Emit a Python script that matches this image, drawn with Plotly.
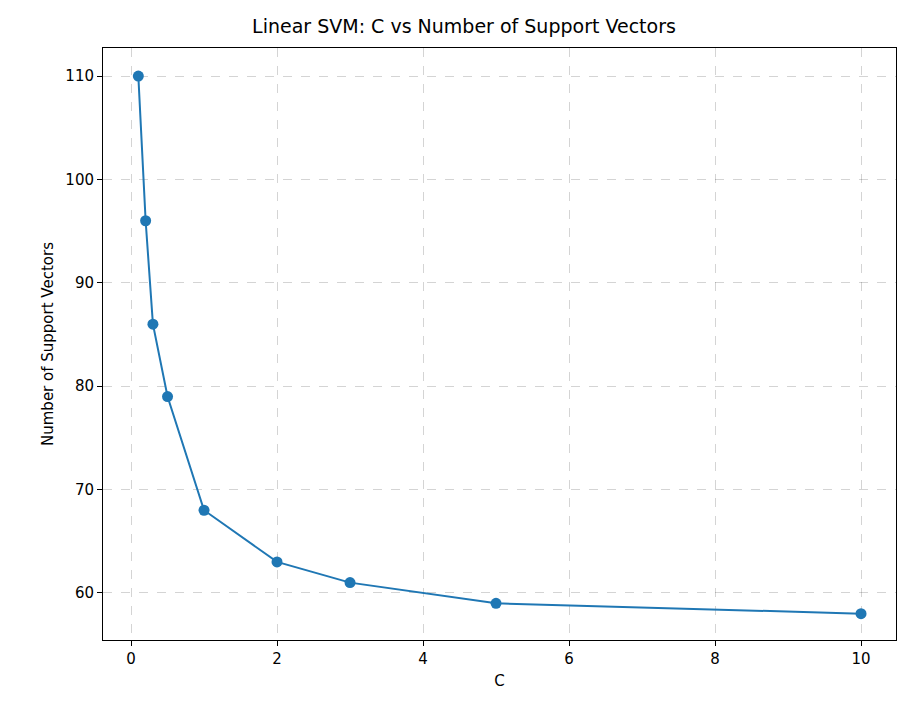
import plotly.graph_objects as go

c_values = [0.1, 0.2, 0.3, 0.5, 1, 2, 3, 5, 10]
n_support = [110, 96, 86, 79, 68, 63, 61, 59, 58]

fig = go.Figure()
fig.add_trace(go.Scatter(
    x=c_values, y=n_support, mode='lines+markers',
    line=dict(color='#1f77b4', width=2),
    marker=dict(color='#1f77b4', size=11),
))

axis_common = dict(
    showline=True, linecolor='black', linewidth=1, mirror=True,
    ticks='outside', ticklen=5, tickcolor='black',
    showgrid=True, gridcolor='rgba(0,0,0,0.17)', griddash='dash', gridwidth=1,
    zeroline=False, tickfont=dict(size=15, color='black'),
)

fig.update_layout(
    width=912, height=721,
    margin=dict(l=95, r=24, t=40, b=89),
    paper_bgcolor='white', plot_bgcolor='white',
    font=dict(family='DejaVu Sans', color='black'),
    title=dict(text='Linear SVM: C vs Number of Support Vectors', x=0.5, xanchor='center',
               y=1 - 18 / 721, yanchor='middle', font=dict(size=19)),
    xaxis=dict(axis_common, range=[-0.384, 10.479], dtick=2,
               title=dict(text='C', font=dict(size=15), standoff=8)),
    yaxis=dict(axis_common, range=[55.45, 112.71], dtick=10,
               title=dict(text='Number of Support Vectors', font=dict(size=15), standoff=8)),
    showlegend=False,
)

fig.write_html("out.html")
